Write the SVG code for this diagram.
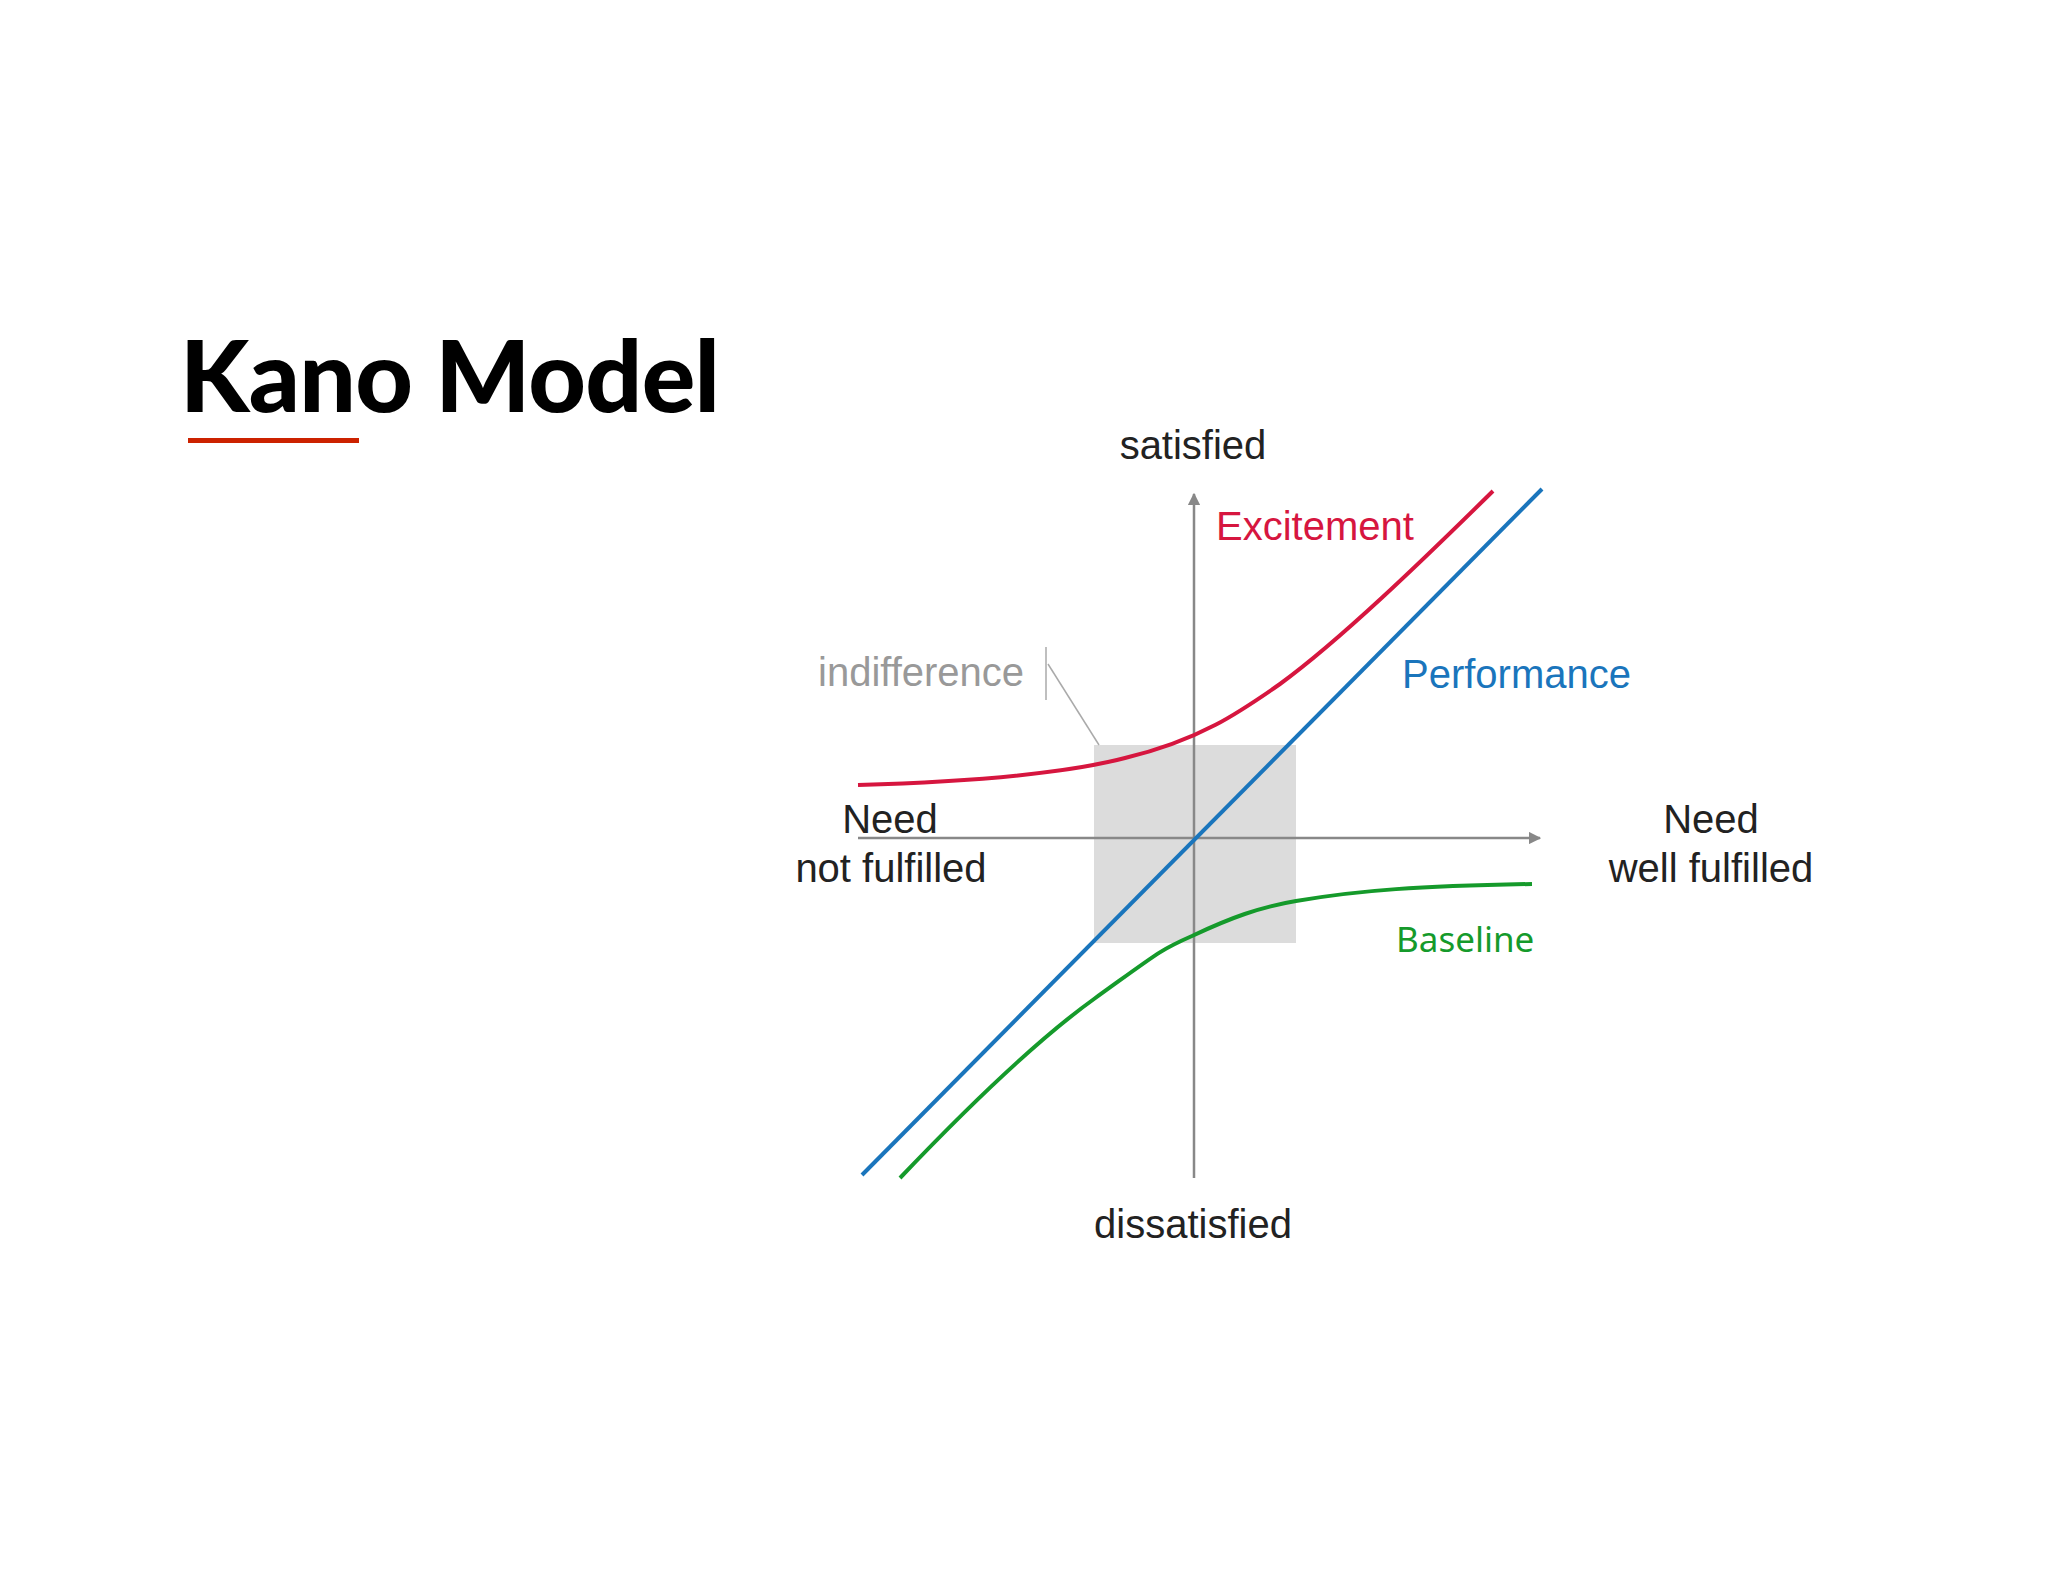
<svg xmlns="http://www.w3.org/2000/svg" width="2048" height="1582" viewBox="0 0 2048 1582">
<defs>
<style>
.lbl{font-family:"Liberation Sans",Arial,sans-serif;font-size:40px;fill:#222}
.c{text-anchor:middle}
.curve{fill:none;stroke-width:4}
</style>
<marker id="ah" viewBox="0 0 10 10" refX="9" refY="5" markerWidth="5" markerHeight="5" orient="auto"><path d="M0,0L10,5L0,10z" fill="#888"/></marker>
</defs>
<rect width="2048" height="1582" fill="#fff"/>
<g id="title">
<text x="180" y="412" font-family="Lato,'Liberation Sans',sans-serif" font-weight="900" font-size="100" fill="#000" textLength="540">Kano Model</text>
<rect x="188" y="438" width="171" height="5" fill="#cc2200"/>
</g>
<g id="indifference-zone">
<rect x="1094" y="745" width="202" height="198" fill="#dcdcdc"/>
</g>
<g id="connectors">
<line x1="858" y1="838" x2="1540" y2="838" stroke="#888" stroke-width="2.5" marker-end="url(#ah)"/>
<line x1="1194" y1="1178" x2="1194" y2="494" stroke="#888" stroke-width="2.5" marker-end="url(#ah)"/>
<line x1="1046" y1="647" x2="1046" y2="700" stroke="#aaa" stroke-width="1.5"/>
<line x1="1048" y1="664" x2="1099" y2="745" stroke="#aaa" stroke-width="1.5"/>
</g>
<g id="performance"><line x1="862" y1="1175" x2="1542" y2="489" stroke="#1a75bc" stroke-width="4"/></g>
<g id="excitement"><path class="curve" stroke="#d6163f" d="M858,785 C960,782 1060,775 1125,758 C1200,740 1240,712 1280,684 C1340,640 1420,563 1493,491"/></g>
<g id="baseline"><path class="curve" stroke="#159a2b" d="M900,1178 C960,1115 1030,1045 1094,999 S1160,950 1192,936 C1230,918 1260,907 1296,901 C1360,890 1420,886 1532,884"/></g>
<g id="labels">
<text class="lbl c" x="1193" y="459">satisfied</text>
<text class="lbl c" x="1193" y="1238">dissatisfied</text>
<text class="lbl" x="1216" y="540" style="fill:#d6163f">Excitement</text>
<text class="lbl" x="1402" y="688" style="fill:#1a75bc">Performance</text>
<text class="lbl" x="818" y="686" style="fill:#999">indifference</text>
<text class="lbl c" x="890" y="833">Need</text>
<text class="lbl c" x="891" y="882">not fulfilled</text>
<text class="lbl c" x="1711" y="833">Need</text>
<text class="lbl c" x="1711" y="882">well fulfilled</text>
<text x="1396" y="952" font-family="'Noto Sans','Open Sans',sans-serif" font-size="35" fill="#159a2b">Baseline</text>
</g>
</svg>
